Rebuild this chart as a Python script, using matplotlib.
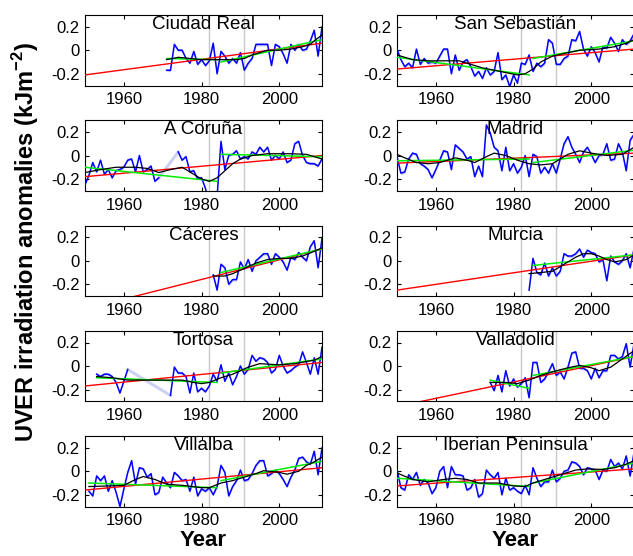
import numpy as np
import matplotlib
matplotlib.use("Agg")
import matplotlib.pyplot as plt

plt.rcParams['font.family'] = ['Liberation Sans', 'DejaVu Sans']
plt.rcParams['mathtext.fontset'] = 'custom'
plt.rcParams['mathtext.rm'] = 'Liberation Sans'
plt.rcParams['mathtext.bf'] = 'Liberation Sans:bold'

nan = np.nan

# annual UVER anomalies (kJ m-2), first year given separately
ciudad_real_start = 1971
ciudad_real = [-0.17, -0.17, 0.05, 0.0, 0.0, -0.07, -0.11, -0.01, -0.12, -0.08,
               -0.13, -0.09, 0.06, -0.20, -0.01, -0.05, -0.11, -0.07, -0.11, -0.02,
               -0.17, -0.11, -0.07, 0.05, 0.05, 0.05, 0.05, -0.13, 0.05, 0.03,
               -0.03, -0.11, 0.05, 0.0, 0.05, 0.0, 0.01, 0.08, 0.17, -0.05, 0.20]
ciudad_real_smooth_yr = [1971, 1974, 1977, 1980, 1983, 1986, 1989, 1991, 1993, 1995, 1997, 2000, 2003, 2006, 2008, 2009, 2011]
ciudad_real_smooth = [-0.08, -0.06, -0.07, -0.08, -0.08, -0.08, -0.08, -0.07, -0.04, -0.02, 0.0, 0.0, 0.01, 0.03, 0.05, 0.08, 0.13]
ciudad_real_red = [(1950, -0.21), (2011, 0.06)]
ciudad_real_green = [[(1971, -0.07), (1984, -0.08)], [(1985, -0.10), (2011, 0.09)]]

san_sebastian_start = 1950
san_sebastian = [0.01, -0.08, -0.14, -0.11, -0.15, 0.01, -0.12, -0.07, -0.11, -0.10,
                 -0.11, -0.05, 0.01, 0.01, -0.20, -0.04, -0.17, -0.10, -0.08, -0.14,
                 -0.22, -0.18, -0.24, -0.15, -0.21, -0.18, -0.02, -0.25, -0.21, -0.31,
                 -0.21, -0.28, -0.11, -0.12, -0.04, -0.18, -0.11, -0.14, -0.11, 0.09,
                 0.06, -0.12, -0.12, -0.07, -0.05, 0.09, 0.08, 0.16, 0.01, -0.05,
                 0.03, -0.02, -0.10, 0.03, 0.02, 0.11, 0.06, -0.01, 0.09, 0.05,
                 0.08, 0.14]
san_sebastian_smooth_yr = [1950, 1954, 1958, 1962, 1966, 1969, 1972, 1975, 1978, 1981, 1983, 1985, 1987, 1990, 1994, 1997, 2002, 2006, 2009, 2011]
san_sebastian_smooth = [-0.04, -0.08, -0.09, -0.09, -0.09, -0.12, -0.15, -0.17, -0.19, -0.21, -0.20, -0.16, -0.10, -0.05, -0.02, 0.0, 0.01, 0.03, 0.06, 0.09]
san_sebastian_red = [(1950, -0.16), (2011, 0.01)]
san_sebastian_green = [[(1950, -0.06), (1984, -0.21)], [(1985, -0.07), (2011, 0.08)]]

a_coruna_start = 1950
a_coruna = [-0.25, -0.17, -0.06, -0.14, -0.04, -0.16, -0.12, -0.19, -0.13, -0.12,
            -0.10, -0.04, -0.03, -0.14, 0.0, -0.14, -0.12, -0.09, -0.22, -0.19,
            nan, nan, nan, nan, 0.03, -0.04, -0.01, -0.14, -0.13, -0.20,
            -0.19, -0.28, -0.40, -0.40, -0.35, 0.12, -0.12, 0.0, 0.01, 0.04,
            -0.03, -0.01, -0.03, 0.03, 0.01, 0.07, 0.03, 0.07, -0.04, 0.0,
            -0.03, 0.03, -0.06, -0.04, 0.10, 0.12, 0.0, -0.06, -0.07, -0.07,
            -0.09, -0.03]
a_coruna_smooth_yr = [1950, 1954, 1958, 1963, 1966, 1969, 1972, 1975, 1978, 1980, 1982, 1984, 1986, 1988, 1990, 1993, 1997, 2003, 2007, 2009, 2011]
a_coruna_smooth = [-0.145, -0.12, -0.10, -0.10, -0.11, -0.145, -0.12, -0.10, -0.16, -0.20, -0.22, -0.19, -0.13, -0.07, -0.03, 0.0, 0.015, 0.015, 0.01, -0.01, -0.03]
a_coruna_red = [(1950, -0.18), (2011, 0.0)]
a_coruna_green = [[(1950, -0.10), (1984, -0.22)], [(1985, 0.01), (2011, -0.01)]]

madrid_start = 1950
madrid = [-0.01, -0.15, -0.14, -0.03, 0.02, 0.01, -0.07, -0.09, -0.12, -0.19,
          -0.12, -0.04, 0.04, 0.03, -0.12, 0.09, 0.06, 0.03, -0.03, -0.01,
          -0.18, -0.09, -0.18, 0.26, 0.19, 0.07, 0.04, -0.13, 0.07, -0.13,
          -0.07, -0.15, -0.10, 0.0, -0.18, 0.01, -0.01, -0.15, -0.10, -0.15,
          -0.07, -0.15, -0.03, 0.10, 0.16, 0.07, 0.01, -0.06, 0.03, 0.07,
          0.01, -0.06, 0.0, 0.01, 0.10, -0.04, -0.03, 0.10, 0.03, -0.13,
          0.13, 0.18]
madrid_smooth_yr = [1950, 1952, 1955, 1958, 1961, 1965, 1968, 1970, 1973, 1975, 1978, 1981, 1984, 1987, 1990, 1992, 1994, 1997, 2000, 2004, 2008, 2011]
madrid_smooth = [0.01, -0.02, -0.06, -0.07, -0.06, -0.02, -0.04, -0.06, -0.01, 0.02, 0.0, -0.04, -0.07, -0.08, -0.07, -0.03, 0.01, 0.04, 0.02, 0.0, 0.01, 0.07]
madrid_red = [(1950, -0.065), (2011, 0.02)]
madrid_green = [[(1950, -0.045), (1984, -0.03)], [(1985, -0.06), (2011, 0.045)]]

caceres_start = 1983
caceres = [-0.12, -0.25, -0.03, -0.06, -0.20, -0.16, -0.16, -0.01, -0.07, 0.01,
           -0.09, 0.0, 0.03, 0.06, 0.06, -0.03, 0.06, 0.03, -0.01, -0.08,
           0.03, 0.01, 0.07, 0.03, 0.0, 0.12, 0.17, -0.06, 0.19]
caceres_smooth_yr = [1983, 1986, 1988, 1990, 1992, 1994, 1997, 2000, 2003, 2006, 2009, 2011]
caceres_smooth = [-0.13, -0.13, -0.11, -0.08, -0.05, -0.02, 0.01, 0.02, 0.02, 0.04, 0.08, 0.11]
caceres_red = [(1950, -0.41), (2011, 0.10)]
caceres_green = [[(1985, -0.10), (2011, 0.10)]]

murcia_start = 1984
murcia = [-0.25, 0.02, -0.10, -0.12, -0.02, -0.13, -0.06, -0.13, -0.09, 0.06,
          0.04, 0.04, 0.06, 0.10, 0.03, 0.09, 0.07, 0.06, -0.01, 0.01,
          -0.17, 0.04, -0.01, -0.03, 0.0, 0.06, -0.06, 0.10]
murcia_smooth_yr = [1984, 1987, 1990, 1992, 1994, 1996, 1998, 2000, 2002, 2004, 2006, 2009, 2011]
murcia_smooth = [-0.11, -0.10, -0.09, -0.05, -0.01, 0.03, 0.06, 0.06, 0.04, 0.01, -0.01, 0.01, 0.05]
murcia_red = [(1950, -0.25), (2011, 0.05)]
murcia_green = [[(1985, -0.04), (2011, 0.05)]]

tortosa_start = 1953
tortosa = [-0.07, -0.09, -0.07, -0.07, -0.09, -0.14, -0.23, -0.13, -0.03,
           nan, nan, nan, nan, nan, nan, nan, nan, nan, nan,
           -0.25, -0.01, -0.06, -0.06, -0.09, -0.23, -0.06, -0.22, -0.19, -0.22,
           -0.17, -0.07, -0.13, 0.01, -0.13, -0.06, -0.16, -0.09, 0.0, -0.07,
           -0.03, 0.09, 0.04, 0.07, 0.06, 0.03, -0.06, -0.03, 0.09, 0.0,
           -0.06, -0.04, -0.01, 0.01, 0.12, 0.03, -0.07, 0.07, -0.07, 0.16]
tortosa_smooth_yr = [1953, 1957, 1961, 1972, 1975, 1978, 1980, 1982, 1985, 1988, 1992, 1995, 2000, 2004, 2009, 2011]
tortosa_smooth = [-0.09, -0.10, -0.12, -0.12, -0.12, -0.14, -0.15, -0.14, -0.10, -0.07, -0.01, 0.02, 0.01, 0.02, 0.05, 0.08]
tortosa_red = [(1950, -0.17), (2011, 0.03)]
tortosa_green = [[(1953, -0.10), (1984, -0.14)], [(1985, -0.06), (2011, 0.06)]]

valladolid_start = 1974
valladolid = [-0.14, -0.21, -0.08, -0.22, -0.04, -0.17, -0.11, -0.18, -0.15, -0.10,
              -0.27, 0.03, 0.03, -0.14, -0.11, -0.05, 0.02, -0.08, -0.05, -0.11,
              -0.01, 0.11, 0.12, -0.02, -0.02, -0.04, -0.11, -0.02, -0.10, -0.04,
              -0.04, 0.09, 0.09, 0.06, 0.08, 0.19, -0.01, 0.19]
valladolid_smooth_yr = [1974, 1978, 1981, 1984, 1987, 1990, 1994, 1997, 2000, 2002, 2005, 2008, 2011]
valladolid_smooth = [-0.14, -0.14, -0.15, -0.12, -0.08, -0.05, -0.015, 0.005, -0.015, -0.04, -0.01, 0.06, 0.13]
valladolid_red = [(1950, -0.345), (2011, 0.08)]
valladolid_green = [[(1974, -0.12), (1984, -0.19)], [(1985, -0.08), (2011, 0.08)]]

villalba_start = 1951
villalba = [-0.17, -0.21, -0.04, -0.08, -0.04, -0.17, -0.08, -0.18, -0.30, -0.15,
            -0.01, 0.09, -0.11, 0.03, 0.02, -0.05, -0.02, -0.20, -0.18, -0.05,
            -0.10, -0.14, -0.01, -0.04, -0.08, -0.07, -0.17, -0.05, -0.21, -0.15,
            -0.17, -0.14, -0.20, -0.13, 0.05, -0.01, -0.21, -0.13, -0.08, 0.01,
            -0.08, -0.07, -0.02, 0.05, 0.09, 0.09, -0.04, -0.02, 0.01, -0.02,
            -0.07, -0.13, -0.05, 0.01, 0.11, 0.12, 0.08, 0.06, 0.17, -0.03, 0.20]
villalba_smooth_yr = [1951, 1956, 1960, 1963, 1965, 1968, 1971, 1975, 1980, 1982, 1985, 1988, 1991, 1994, 1996, 2000, 2002, 2005, 2007, 2009, 2011]
villalba_smooth = [-0.13, -0.125, -0.12, -0.07, -0.045, -0.07, -0.11, -0.12, -0.14, -0.14, -0.10, -0.08, -0.05, -0.02, 0.005, -0.01, -0.025, 0.0, 0.05, 0.08, 0.12]
villalba_red = [(1950, -0.16), (2011, 0.03)]
villalba_green = [[(1951, -0.10), (1984, -0.14)], [(1985, -0.08), (2011, 0.085)]]

iberian_start = 1950
iberian = [0.01, -0.14, -0.16, -0.03, -0.07, -0.01, -0.12, -0.07, -0.10, -0.19,
           -0.14, 0.0, 0.04, -0.14, 0.04, -0.03, -0.03, -0.04, -0.16, -0.14,
           -0.07, -0.22, -0.19, 0.01, -0.03, -0.06, -0.01, -0.20, -0.06, -0.16,
           -0.14, -0.17, -0.19, -0.12, -0.20, 0.03, -0.06, -0.13, -0.09, -0.09,
           0.01, -0.09, -0.06, 0.0, 0.01, 0.08, 0.07, 0.04, -0.03, 0.03,
           0.02, 0.01, -0.07, 0.01, 0.0, 0.10, 0.04, 0.07, 0.02, 0.13,
           -0.04, 0.16]
iberian_smooth_yr = [1950, 1954, 1958, 1962, 1965, 1968, 1971, 1976, 1980, 1983, 1985, 1989, 1992, 1996, 1999, 2003, 2006, 2009, 2011]
iberian_smooth = [-0.015, -0.07, -0.09, -0.07, -0.06, -0.07, -0.10, -0.10, -0.125, -0.13, -0.10, -0.06, -0.03, 0.01, 0.02, 0.015, 0.03, 0.06, 0.09]
iberian_red = [(1950, -0.125), (2011, 0.02)]
iberian_green = [[(1950, -0.06), (1984, -0.13)], [(1985, -0.10), (2011, 0.07)]]

volcano_years = [1982, 1991]  # El Chichón, Pinatubo
xticks = [1960, 1980, 2000]
yticks = [-0.2, 0, 0.2]
ytick_labels = ["-0.2", "0", "0.2"]

# (title, start, values, smooth years, smooth, red trend, green trends) per column
left_col = [
    ("Ciudad Real", ciudad_real_start, ciudad_real, ciudad_real_smooth_yr, ciudad_real_smooth, ciudad_real_red, ciudad_real_green),
    ("A Coruña", a_coruna_start, a_coruna, a_coruna_smooth_yr, a_coruna_smooth, a_coruna_red, a_coruna_green),
    ("Cáceres", caceres_start, caceres, caceres_smooth_yr, caceres_smooth, caceres_red, caceres_green),
    ("Tortosa", tortosa_start, tortosa, tortosa_smooth_yr, tortosa_smooth, tortosa_red, tortosa_green),
    ("Villalba", villalba_start, villalba, villalba_smooth_yr, villalba_smooth, villalba_red, villalba_green),
]
right_col = [
    ("San Sebastián", san_sebastian_start, san_sebastian, san_sebastian_smooth_yr, san_sebastian_smooth, san_sebastian_red, san_sebastian_green),
    ("Madrid", madrid_start, madrid, madrid_smooth_yr, madrid_smooth, madrid_red, madrid_green),
    ("Murcia", murcia_start, murcia, murcia_smooth_yr, murcia_smooth, murcia_red, murcia_green),
    ("Valladolid", valladolid_start, valladolid, valladolid_smooth_yr, valladolid_smooth, valladolid_red, valladolid_green),
    ("Iberian Peninsula", iberian_start, iberian, iberian_smooth_yr, iberian_smooth, iberian_red, iberian_green),
]


def draw_panel(ax, title, start, vals, s_yr, s_val, red, green):
    v = np.array(vals, dtype=float)
    yr = np.arange(start, start + len(v))
    for x in volcano_years:
        ax.axvline(x, color="#c8c8c8", lw=1, zorder=1)
    # faded link across missing years
    idx = np.where(~np.isnan(v))[0]
    for a, b in zip(idx[:-1], idx[1:]):
        if b - a > 1:
            ax.plot(yr[[a, b]], v[[a, b]], color="#cdd2f5", lw=2.2, zorder=2)
    ax.fill_between(yr, v - 0.012, v + 0.012, color="#9a9cf8", alpha=0.6, lw=0, zorder=2)
    ax.plot(yr, v, color="#0000ff", lw=1.1, zorder=3)
    ax.plot(*zip(*red), color="#ff0000", lw=1.0, zorder=4)
    for seg in green:
        ax.plot(*zip(*seg), color="#00ee00", lw=1.1, zorder=5)
    ax.plot(s_yr, s_val, color="k", lw=0.9, zorder=6)
    ax.text(0.5, 0.985, title, transform=ax.transAxes, ha="center", va="top",
            fontsize=13.5, zorder=7)
    ax.set_xlim(1950, 2011)
    ax.set_ylim(-0.3, 0.3)
    ax.set_xticks(xticks)
    ax.set_yticks(yticks)
    ax.set_yticklabels(ytick_labels)
    ax.tick_params(direction="in", length=3, width=0.8, labelsize=12,
                   top=True, right=True)
    ax.tick_params(axis="x", pad=5)
    ax.tick_params(axis="y", pad=4)
    for s in ax.spines.values():
        s.set_linewidth(0.8)


fig = plt.figure(figsize=(6.33, 5.56), dpi=100)
W, H = 633.0, 556.0
for c, (col, x0) in enumerate([(left_col, 85), (right_col, 397)]):
    for r, panel in enumerate(col):
        top = 15 + 105.25 * r
        ax = fig.add_axes([x0 / W, 1 - (top + 70.5) / H, 237 / W, 70.5 / H])
        draw_panel(ax, *panel)
        if r == len(col) - 1:
            ax.set_xlabel("Year", fontsize=16, fontweight="bold", labelpad=1)

fig.text(0.041, 0.565, r"UVER irradiation anomalies (kJm$^{\mathbf{-2}}$)",
         rotation=90, ha="center", va="center", fontsize=17, fontweight="bold")

fig.savefig("out.png", dpi=100)
plt.close(fig)
